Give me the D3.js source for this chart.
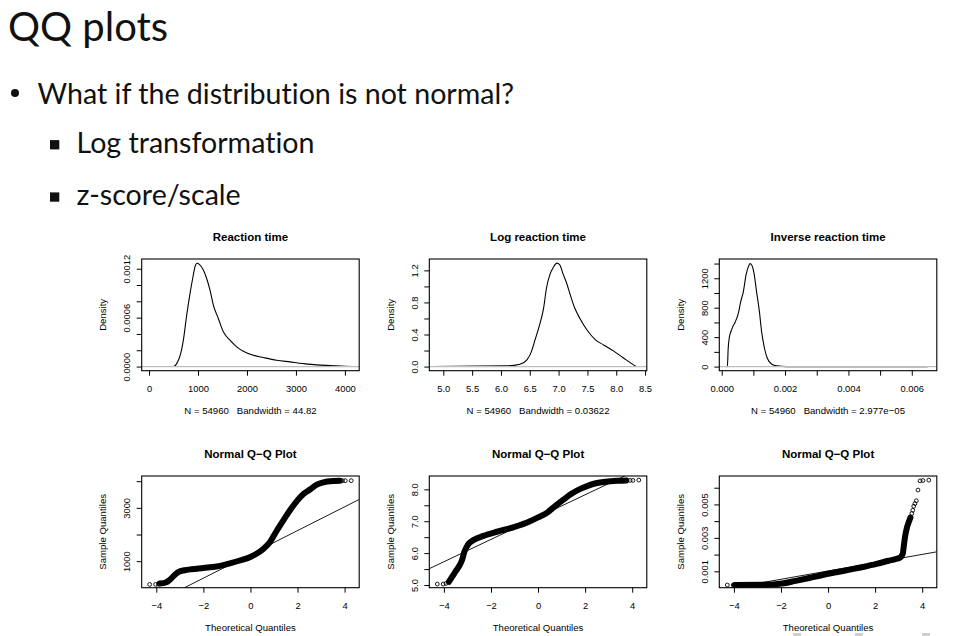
<!DOCTYPE html>
<html>
<head>
<meta charset="utf-8">
<script src="https://cdn.jsdelivr.net/npm/d3@7"></script>
<style>
  body { margin: 0; background: #fff; }
  svg { display: block; }
  .slide { font-family: Lato, "Open Sans", sans-serif; fill: #111; font-variant-ligatures: none; }
  .r text { font-family: "Liberation Sans", Arial, Helvetica, sans-serif; fill: #000; white-space: pre; }
</style>
</head>
<body>
<div id="chart"></div>
<script>
// ---- slide text ----
const slideTitle = "QQ plots";
const bulletMain = "What if the distribution is not normal?";
const bulletSub = ["Log transformation", "z-score/scale"];

// ---- panel labels ----
const densityTitles = ["Reaction time", "Log reaction time", "Inverse reaction time"];
const densitySubtitles = [
    "N = 54960   Bandwidth = 44.82",
    "N = 54960   Bandwidth = 0.03622",
    "N = 54960   Bandwidth = 2.977e\u221205"
];
const qqTitle = "Normal Q\u2212Q Plot";

// ---- density curves ----
const rtDensX = [0, 497, 551, 599, 646, 701, 769, 837, 891, 939, 980, 1027, 1109, 1177, 1245, 1313, 1415, 1517, 1653, 1789, 1925, 2129, 2333, 2605, 2878, 3150, 3422, 3694, 4000, 4150];
const rtDensY = [0, 0, 0.0000246, 0.0000778, 0.00016, 0.000324, 0.000631, 0.000897, 0.00108, 0.001225, 0.001266, 0.001253, 0.001184, 0.00108, 0.000938, 0.000754, 0.00059, 0.000426, 0.000324, 0.000242, 0.000188, 0.000139, 0.000111, 0.0000778, 0.0000573, 0.0000369, 0.0000205, 0.0000123, 0.0000041, 0];

const logDensX = [4.80, 6.10, 6.33, 6.45, 6.53, 6.59, 6.67, 6.74, 6.79, 6.85, 6.91, 6.97, 7.02, 7.08, 7.14, 7.20, 7.28, 7.37, 7.49, 7.63, 7.78, 7.95, 8.12, 8.30, 8.35];
const logDensY = [0, 0.008, 0.029, 0.083, 0.19, 0.33, 0.52, 0.73, 0.98, 1.15, 1.24, 1.29, 1.27, 1.15, 1.04, 0.90, 0.73, 0.60, 0.46, 0.34, 0.27, 0.196, 0.11, 0.021, 0];

const invDensX = [0.00016, 0.000179, 0.000205, 0.000242, 0.000295, 0.000347, 0.000421, 0.000526, 0.0006, 0.000684, 0.000768, 0.000842, 0.000895, 0.000947, 0.00102, 0.0011, 0.00119, 0.00126, 0.00135, 0.00144, 0.00158, 0.00174, 0.00205, 0.0065];
const invDensY = [0, 0, 250, 400, 480, 540, 600, 725, 883, 1019, 1245, 1358, 1399, 1381, 1268, 1019, 747, 475, 249, 113, 32, 9, 0, 0];

// ---- Q-Q samples (dense part) ----
const rtQQTheo = [-3.85, -3.6, -3.43, -3.22, -3.05, -2.8, -2.5, -2.0, -1.44, -0.875, -0.45, 0.0, 0.26, 0.545, 0.83, 1.11, 1.40, 1.68, 1.97, 2.25, 2.53, 2.82, 3.10, 3.53, 3.80];
const rtQQSample = [160, 200, 300, 480, 600, 660, 700, 745, 800, 920, 1025, 1160, 1277, 1453, 1717, 2132, 2535, 2912, 3252, 3516, 3690, 3870, 3956, 4006, 4015];
const logQQTheo = [-3.79, -3.65, -3.51, -3.37, -3.23, -3.13, -2.99, -2.74, -2.32, -1.75, -1.05, -0.49, 0.0, 0.35, 0.70, 1.05, 1.40, 1.75, 2.11, 2.46, 2.88, 3.44, 3.75];
const logQQSample = [5.10, 5.26, 5.42, 5.57, 5.78, 6.04, 6.25, 6.41, 6.54, 6.67, 6.81, 6.95, 7.12, 7.25, 7.46, 7.66, 7.85, 8.0, 8.11, 8.19, 8.24, 8.27, 8.28];
const invQQTheo = [-3.96, -2.81, -1.95, -1.38, -0.80, -0.23, 0.34, 0.92, 1.49, 2.06, 2.57, 2.92, 3.07, 3.17, 3.23, 3.28, 3.35, 3.43, 3.50];
const invQQSample = [0.00018, 0.00019, 0.00027, 0.00043, 0.0006, 0.00078, 0.00094, 0.0011, 0.00126, 0.00144, 0.00163, 0.00175, 0.00183, 0.00203, 0.00264, 0.00314, 0.00361, 0.00395, 0.00421];

// ---- Q-Q single points at the tails ----
const rtTailTheo = [-4.28, -4.03, -3.91, 3.91, 4.03, 4.28];
const rtTailSample = [128, 130, 135, 4019, 4019, 4020];
const logTailTheo = [-4.28, -4.03, -3.91, 3.91, 4.03, 4.28];
const logTailSample = [5.03, 5.03, 5.05, 8.28, 8.28, 8.29];
const invTailTheo = [-4.28, -4.03, -3.91, 3.56, 3.60, 3.64, 3.69, 3.75, 3.82, 3.91, 4.03, 4.28];
const invTailSample = [0.00018, 0.00018, 0.00018, 0.00446, 0.00465, 0.00489, 0.00505, 0.00522, 0.00586, 0.00641, 0.00643, 0.00645];

// ---- qqline: intercept, slope ----
const qqIntercept = [1255, 7.13, 0.00102];
const qqSlope = [446, 0.35, 0.000248];

// ---- axes ----
const rtDensXTicks = [0, 1000, 2000, 3000, 4000];
const rtDensXLabels = ["0", "1000", "2000", "3000", "4000"];
const rtDensYTicks = [0, 0.0002, 0.0004, 0.0006, 0.0008, 0.001, 0.0012];
const rtDensYLabels = ["0.0000", "", "", "0.0006", "", "", "0.0012"];
const logDensXTicks = [5.0, 5.5, 6.0, 6.5, 7.0, 7.5, 8.0, 8.5];
const logDensXLabels = ["5.0", "5.5", "6.0", "6.5", "7.0", "7.5", "8.0", "8.5"];
const logDensYTicks = [0, 0.2, 0.4, 0.6, 0.8, 1.0, 1.2];
const logDensYLabels = ["0.0", "", "0.4", "", "0.8", "", "1.2"];
const invDensXTicks = [0, 0.001, 0.002, 0.003, 0.004, 0.005, 0.006];
const invDensXLabels = ["0.000", "", "0.002", "", "0.004", "", "0.006"];
const invDensYTicks = [0, 200, 400, 600, 800, 1000, 1200, 1400];
const invDensYLabels = ["0", "", "400", "", "800", "", "1200", ""];
const qqXTicks = [-4, -2, 0, 2, 4];
const qqXLabels = ["\u22124", "\u22122", "0", "2", "4"];
const rtQQYTicks = [1000, 2000, 3000, 4000];
const rtQQYLabels = ["1000", "", "3000", ""];
const logQQYTicks = [5.0, 5.5, 6.0, 6.5, 7.0, 7.5, 8.0];
const logQQYLabels = ["5.0", "", "6.0", "", "7.0", "", "8.0"];
const invQQYTicks = [0.001, 0.002, 0.003, 0.004, 0.005, 0.006];
const invQQYLabels = ["0.001", "", "0.003", "", "0.005", ""];

// ---- layout ----
const W = 972, H = 636;
const boxW = 217.5, boxH = 111.7;
const colLeft = [141.7, 429.3, 719.3];
const rowTop = [259, 476];

const svg = d3.select("#chart").append("svg").attr("width", W).attr("height", H);
svg.append("rect").attr("width", W).attr("height", H).attr("fill", "#fff");

// slide header
const slide = svg.append("g").attr("class", "slide");
slide.append("text").attr("x", 8).attr("y", 41).style("font-size", "40px").text(slideTitle);
slide.append("circle").attr("cx", 15).attr("cy", 93).attr("r", 4).attr("fill", "#111");
slide.append("text").attr("x", 37.5).attr("y", 103.5).style("font-size", "28.6px").text(bulletMain);
bulletSub.forEach((t, i) => {
    const cy = 144.7 + i * 52.3;
    slide.append("rect").attr("x", 50).attr("y", cy - 4.6).attr("width", 9.3).attr("height", 9.3).attr("fill", "#111");
    slide.append("text").attr("x", 76.5).attr("y", cy + 7.8).style("font-size", "28.6px").text(t);
});

// faint marks along the bottom edge of the slide
[793, 855, 922].forEach(px => {
    svg.append("rect").attr("x", px).attr("y", 633).attr("width", 8).attr("height", 3).attr("fill", "#cfcfcf");
});

function drawPanel(p) {
    const left = colLeft[p.col], top = rowTop[p.row];
    const x = d3.scaleLinear().domain(p.xDomain).range([left, left + boxW]);
    const y = d3.scaleLinear().domain(p.yDomain).range([top + boxH, top]);
    const clipId = `clip-${p.row}-${p.col}`;
    svg.append("clipPath").attr("id", clipId)
        .append("rect").attr("x", left).attr("y", top).attr("width", boxW).attr("height", boxH);

    const g = svg.append("g").attr("class", "r");
    const plot = g.append("g").attr("clip-path", `url(#${clipId})`);
    const line = d3.line().x(d => x(d[0])).y(d => y(d[1]));

    if (p.type === "density") {
        plot.append("path")
            .datum(d3.zip(p.xs, p.ys))
            .attr("d", line.curve(d3.curveMonotoneX))
            .attr("fill", "none").attr("stroke", "#000").attr("stroke-width", 1.1);
        // zero line drawn over the curve, as R does
        plot.append("line")
            .attr("x1", left).attr("x2", left + boxW)
            .attr("y1", y(0)).attr("y2", y(0))
            .attr("stroke", "#bebebe").attr("stroke-width", 1.2);
    } else {
        // dense run of points
        plot.append("path")
            .datum(d3.zip(p.xs, p.ys))
            .attr("d", line.curve(d3.curveMonotoneX))
            .attr("fill", "none").attr("stroke", "#000")
            .attr("stroke-width", 6).attr("stroke-linecap", "round").attr("stroke-linejoin", "round");
        // separate points
        plot.selectAll("circle.pt")
            .data(d3.zip(p.tailX, p.tailY))
            .join("circle")
            .attr("class", "pt")
            .attr("cx", d => x(d[0])).attr("cy", d => y(d[1]))
            .attr("r", 1.9).attr("fill", "none").attr("stroke", "#000").attr("stroke-width", 0.9);
        // qqline
        const xd = x.domain();
        plot.append("path")
            .datum(xd.map(v => [v, p.a + p.b * v]))
            .attr("d", d3.line().x(d => x(d[0])).y(d => y(d[1])))
            .attr("fill", "none").attr("stroke", "#000").attr("stroke-width", 0.9);
    }

    // box
    g.append("rect").attr("x", left).attr("y", top).attr("width", boxW).attr("height", boxH)
        .attr("fill", "none").attr("stroke", "#000").attr("stroke-width", 1.1);

    // x axis
    const xAxis = g.append("g")
        .attr("transform", `translate(0,${top + boxH})`)
        .call(d3.axisBottom(x).tickValues(p.xTicks).tickFormat((d, i) => p.xLabels[i])
            .tickSize(5).tickPadding(9.5));
    xAxis.select(".domain").remove();
    xAxis.selectAll(".tick line").attr("stroke", "#000");
    xAxis.selectAll(".tick text").style("font-size", "9.4px");

    // y axis, labels parallel to the axis
    const yAxis = g.append("g")
        .attr("transform", `translate(${left},0)`)
        .call(d3.axisLeft(y).tickValues(p.yTicks).tickFormat((d, i) => p.yLabels[i]).tickSize(5));
    yAxis.select(".domain").remove();
    yAxis.selectAll(".tick line").attr("stroke", "#000");
    yAxis.selectAll(".tick text")
        .attr("x", null).attr("dy", "0.35em")
        .attr("text-anchor", "middle")
        .attr("transform", "translate(-15,0) rotate(-90)")
        .style("font-size", "9.4px");

    // titles
    g.append("text").attr("x", left + boxW / 2).attr("y", top - 18)
        .attr("text-anchor", "middle").style("font-size", "11.5px").style("font-weight", "bold")
        .text(p.title);
    g.append("text").attr("x", left + boxW / 2).attr("y", top + boxH + 43.3)
        .attr("text-anchor", "middle").style("font-size", "9.6px")
        .text(p.xTitle);
    g.append("text")
        .attr("transform", `translate(${left - 39},${top + boxH / 2}) rotate(-90)`)
        .attr("dy", "0.35em")
        .attr("text-anchor", "middle").style("font-size", "9.6px")
        .text(p.yTitle);
}

drawPanel({ row: 0, col: 0, type: "density", title: densityTitles[0], xTitle: densitySubtitles[0], yTitle: "Density",
    xDomain: [-150, 4292], yDomain: [-0.0000507, 0.001319], xs: rtDensX, ys: rtDensY,
    xTicks: rtDensXTicks, xLabels: rtDensXLabels, yTicks: rtDensYTicks, yLabels: rtDensYLabels });
drawPanel({ row: 0, col: 1, type: "density", title: densityTitles[1], xTitle: densitySubtitles[1], yTitle: "Density",
    xDomain: [4.757, 8.53], yDomain: [-0.0516, 1.342], xs: logDensX, ys: logDensY,
    xTicks: logDensXTicks, xLabels: logDensXLabels, yTicks: logDensYTicks, yLabels: logDensYLabels });
drawPanel({ row: 0, col: 2, type: "density", title: densityTitles[2], xTitle: densitySubtitles[2], yTitle: "Density",
    xDomain: [-0.000076, 0.00679], yDomain: [-56, 1462], xs: invDensX, ys: invDensY,
    xTicks: invDensXTicks, xLabels: invDensXLabels, yTicks: invDensYTicks, yLabels: invDensYLabels });

drawPanel({ row: 1, col: 0, type: "qq", title: qqTitle, xTitle: "Theoretical Quantiles", yTitle: "Sample Quantiles",
    xDomain: [-4.62, 4.62], yDomain: [5, 4195], xs: rtQQTheo, ys: rtQQSample, tailX: rtTailTheo, tailY: rtTailSample,
    a: qqIntercept[0], b: qqSlope[0],
    xTicks: qqXTicks, xLabels: qqXLabels, yTicks: rtQQYTicks, yLabels: rtQQYLabels });
drawPanel({ row: 1, col: 1, type: "qq", title: qqTitle, xTitle: "Theoretical Quantiles", yTitle: "Sample Quantiles",
    xDomain: [-4.62, 4.62], yDomain: [4.916, 8.418], xs: logQQTheo, ys: logQQSample, tailX: logTailTheo, tailY: logTailSample,
    a: qqIntercept[1], b: qqSlope[1],
    xTicks: qqXTicks, xLabels: qqXLabels, yTicks: logQQYTicks, yLabels: logQQYLabels });
drawPanel({ row: 1, col: 2, type: "qq", title: qqTitle, xTitle: "Theoretical Quantiles", yTitle: "Sample Quantiles",
    xDomain: [-4.62, 4.62], yDomain: [0.00002, 0.0067], xs: invQQTheo, ys: invQQSample, tailX: invTailTheo, tailY: invTailSample,
    a: qqIntercept[2], b: qqSlope[2],
    xTicks: qqXTicks, xLabels: qqXLabels, yTicks: invQQYTicks, yLabels: invQQYLabels });
</script>
</body>
</html>
